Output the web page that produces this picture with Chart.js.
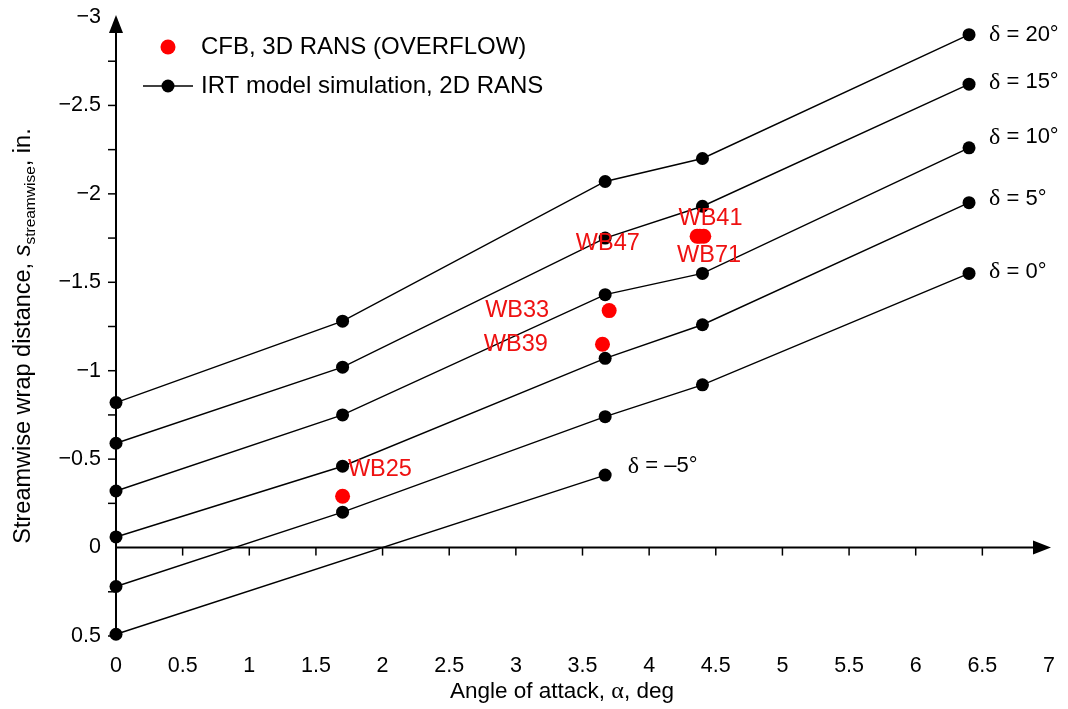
<!DOCTYPE html>
<html>
<head>
<meta charset="utf-8">
<script src="https://cdn.jsdelivr.net/npm/chart.js@4.4.1/dist/chart.umd.min.js"></script>
<style>
  html, body { margin: 0; padding: 0; background: #fff; }
  #wrap { width: 1068px; height: 709px; }
</style>
</head>
<body>
<div id="wrap"><canvas id="myChart" width="1068" height="709"></canvas></div>
<script>
// IRT model simulation (2D RANS), angle of attack vs streamwise wrap distance
const alphaIRT = [0, 1.7, 3.67, 4.4, 6.4];
const sDelta20 = [-0.82, -1.28, -2.07, -2.20, -2.90];
const sDelta15 = [-0.59, -1.02, -1.75, -1.93, -2.62];
const sDelta10 = [-0.32, -0.75, -1.43, -1.55, -2.26];
const sDelta5 = [-0.06, -0.46, -1.07, -1.26, -1.95];
const sDelta0 = [0.22, -0.20, -0.74, -0.92, -1.55];
const alphaDeltaM5 = [0, 3.67];
const sDeltaM5 = [0.49, -0.41];

// CFB, 3D RANS (OVERFLOW)
const cfbNames = ['WB25', 'WB39', 'WB33', 'WB47', 'WB71', 'WB41'];
const cfbAlpha = [1.7, 3.65, 3.7, 4.36, 4.38, 4.41];
const cfbS = [-0.29, -1.15, -1.34, -1.76, -1.76, -1.76];

// text annotations, placed in data units
const deltaLabels = ['\u03b4 = 20\u00b0', '\u03b4 = 15\u00b0', '\u03b4 = 10\u00b0', '\u03b4 = 5\u00b0', '\u03b4 = 0\u00b0', '\u03b4 = \u20135\u00b0'];
const deltaLabelX = [6.55, 6.55, 6.55, 6.55, 6.55, 3.84];
const deltaLabelY = [-2.90, -2.63, -2.32, -1.97, -1.56, -0.46];
const cfbLabelX = [1.74, 3.24, 3.25, 3.93, 4.45, 4.46];
const cfbLabelY = [-0.44, -1.15, -1.34, -1.72, -1.65, -1.86];
const cfbLabelAlign = ['left', 'right', 'right', 'right', 'center', 'center'];

const xTicks = [0, 0.5, 1, 1.5, 2, 2.5, 3, 3.5, 4, 4.5, 5, 5.5, 6, 6.5, 7];
const yMinorTicks = [-2.75, -2.5, -2.25, -2, -1.75, -1.5, -1.25, -1, -0.75, -0.5, -0.25, 0.25, 0.5];

const SANS = '"Liberation Sans", Arial, sans-serif';
const SERIF = '"Liberation Serif", "Times New Roman", serif';

function pts(xs, ys) {
  return xs.map((x, i) => ({ x: x, y: ys[i] }));
}

function irtSet(xs, ys) {
  return {
    data: pts(xs, ys),
    showLine: true,
    borderColor: '#000',
    borderWidth: 1.4,
    backgroundColor: '#000',
    pointRadius: 6.5,
    pointHoverRadius: 6.5,
    pointBorderWidth: 0,
    clip: false,
    order: 2
  };
}

const minus = v => (v < 0 ? '\u2212' + Math.abs(v) : String(v));

const axesPlugin = {
  id: 'axes',
  beforeDatasetsDraw(chart) {
    const c = chart.ctx;
    const xs = chart.scales.x, ys = chart.scales.y;
    const x0 = xs.getPixelForValue(0);
    const y0 = ys.getPixelForValue(0);
    const yBottom = ys.getPixelForValue(0.5);
    const yTop = ys.getPixelForValue(-3);
    const xRight = xs.getPixelForValue(7);
    c.save();
    c.strokeStyle = '#000';
    c.fillStyle = '#000';
    c.lineWidth = 2;
    // y axis
    c.beginPath();
    c.moveTo(x0, yBottom);
    c.lineTo(x0, yTop + 12);
    c.stroke();
    c.beginPath();
    c.moveTo(x0, yTop - 2);
    c.lineTo(x0 - 7, yTop + 16);
    c.lineTo(x0 + 7, yTop + 16);
    c.closePath();
    c.fill();
    // x axis at s = 0
    c.beginPath();
    c.moveTo(x0, y0);
    c.lineTo(xRight - 12, y0);
    c.stroke();
    c.beginPath();
    c.moveTo(xRight + 2, y0);
    c.lineTo(xRight - 16, y0 - 7);
    c.lineTo(xRight - 16, y0 + 7);
    c.closePath();
    c.fill();
    c.lineWidth = 1.5;
    xTicks.forEach(v => {
      if (v === 0 || v === 7) return;
      const px = xs.getPixelForValue(v);
      c.beginPath();
      c.moveTo(px, y0);
      c.lineTo(px, y0 + 8);
      c.stroke();
    });
    yMinorTicks.forEach(v => {
      const py = ys.getPixelForValue(v);
      c.beginPath();
      c.moveTo(x0, py);
      c.lineTo(x0 - 8, py);
      c.stroke();
    });
    c.restore();
  },
  afterDraw(chart) {
    const c = chart.ctx;
    const xs = chart.scales.x, ys = chart.scales.y;
    const area = chart.chartArea;
    c.save();
    c.textBaseline = 'middle';

    // delta labels
    deltaLabels.forEach((t, i) => {
      const px = xs.getPixelForValue(deltaLabelX[i]);
      const py = ys.getPixelForValue(deltaLabelY[i]);
      c.fillStyle = '#000';
      c.textAlign = 'left';
      c.font = '24px ' + SERIF;
      c.fillText('\u03b4', px, py);
      const w = c.measureText('\u03b4').width;
      c.font = '22px ' + SANS;
      c.fillText(t.slice(1), px + w, py);
    });

    // CFB run names
    c.font = '23.5px ' + SANS;
    c.fillStyle = '#ee1111';
    cfbNames.forEach((t, i) => {
      c.textAlign = cfbLabelAlign[i];
      c.fillText(t, xs.getPixelForValue(cfbLabelX[i]), ys.getPixelForValue(cfbLabelY[i]));
    });

    // legend
    const lx = area.left + 52, ly1 = area.top + 30, ly2 = area.top + 69;
    c.fillStyle = '#ff0000';
    c.beginPath();
    c.arc(lx, ly1, 7.5, 0, Math.PI * 2);
    c.fill();
    c.strokeStyle = '#000';
    c.lineWidth = 1.4;
    c.beginPath();
    c.moveTo(lx - 25, ly2);
    c.lineTo(lx + 25, ly2);
    c.stroke();
    c.fillStyle = '#000';
    c.beginPath();
    c.arc(lx, ly2, 6.5, 0, Math.PI * 2);
    c.fill();
    c.font = '24px ' + SANS;
    c.textAlign = 'left';
    c.fillText('CFB, 3D RANS (OVERFLOW)', lx + 33, ly1);
    c.fillText('IRT model simulation, 2D RANS', lx + 33, ly2);

    // x title
    c.font = '22.5px ' + SANS;
    const xt1 = 'Angle of attack, ', xt2 = '\u03b1', xt3 = ', deg';
    const w1 = c.measureText(xt1).width, w3 = c.measureText(xt3).width;
    c.font = '24px ' + SERIF;
    const w2 = c.measureText(xt2).width;
    let sx = 450;
    const ty = 692;
    c.textAlign = 'left';
    c.font = '22.5px ' + SANS;
    c.fillText(xt1, sx, ty);
    c.font = '24px ' + SERIF;
    c.fillText(xt2, sx + w1, ty);
    c.font = '22.5px ' + SANS;
    c.fillText(xt3, sx + w1 + w2, ty);

    // y title with italic s and subscript
    c.translate(22, 336);
    c.rotate(-Math.PI / 2);
    c.textBaseline = 'alphabetic';
    const parts = [
      { t: 'Streamwise wrap distance, ', f: '23.5px ' + SANS, dy: 0 },
      { t: 's', f: 'italic 23.5px ' + SANS, dy: 0 },
      { t: 'streamwise', f: '15.5px ' + SANS, dy: 5 },
      { t: ', in.', f: '23.5px ' + SANS, dy: 0 }
    ];
    let total = 0;
    parts.forEach(p => { c.font = p.f; p.w = c.measureText(p.t).width; total += p.w; });
    let px = -total / 2;
    parts.forEach(p => {
      c.font = p.f;
      c.fillText(p.t, px, 8 + p.dy);
      px += p.w;
    });
    c.restore();
  }
};

const ctx = document.getElementById('myChart').getContext('2d');
const myChart = new Chart(ctx, {
  type: 'scatter',
  data: {
    datasets: [
      {
        label: 'CFB, 3D RANS (OVERFLOW)',
        data: pts(cfbAlpha, cfbS),
        backgroundColor: '#ff0000',
        pointRadius: 7.5,
        pointHoverRadius: 7.5,
        pointBorderWidth: 0,
        clip: false,
        order: 1
      },
      irtSet(alphaIRT, sDelta20),
      irtSet(alphaIRT, sDelta15),
      irtSet(alphaIRT, sDelta10),
      irtSet(alphaIRT, sDelta5),
      irtSet(alphaIRT, sDelta0),
      irtSet(alphaDeltaM5, sDeltaM5)
    ]
  },
  options: {
    responsive: false,
    animation: false,
    events: [],
    layout: { padding: { top: 17, right: 19, left: 0, bottom: 0 } },
    plugins: { legend: { display: false }, tooltip: { enabled: false } },
    scales: {
      x: {
        type: 'linear',
        min: 0,
        max: 7,
        grid: { display: false, drawTicks: false },
        border: { display: false },
        ticks: {
          stepSize: 0.5,
          padding: 17,
          color: '#000',
          font: { family: SANS, size: 21.5 },
          maxRotation: 0,
          autoSkip: false,
          callback: v => String(v)
        },
        afterFit: s => {
          s.height = 73;
          s.paddingLeft = 0;
          s.paddingRight = 0;
        }
      },
      y: {
        type: 'linear',
        reverse: true,
        min: -3,
        max: 0.5,
        grid: { display: false, drawTicks: false },
        border: { display: false },
        ticks: {
          stepSize: 0.5,
          padding: 15,
          color: '#000',
          font: { family: SANS, size: 21.5 },
          callback: v => minus(v)
        },
        afterFit: s => {
          s.width = 116;
          s.paddingTop = 0;
          s.paddingBottom = 0;
        }
      }
    }
  },
  plugins: [axesPlugin]
});
</script>
</body>
</html>
